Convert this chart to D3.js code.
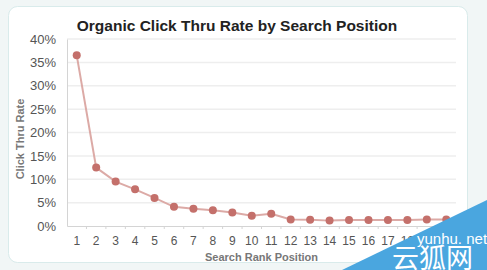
<!DOCTYPE html>
<html>
<head>
<meta charset="utf-8">
<script src="https://cdn.jsdelivr.net/npm/d3@7"></script>
<style>
  html, body { margin: 0; padding: 0; background: #f1f6f6; }
  svg { display: block; font-family: "Liberation Sans", Arial, sans-serif; }
</style>
</head>
<body>
<div id="chart"></div>
<script>
// values
const positions = d3.range(1, 21)
const ctr = [36.5, 12.5, 9.5, 7.85, 6.0, 4.1, 3.7, 3.35, 2.9, 2.2,
  2.6, 1.4, 1.35, 1.15, 1.3, 1.3, 1.3, 1.3, 1.4, 1.4]
const yTicks = [0, 5, 10, 15, 20, 25, 30, 35, 40]

const W = 487, H = 270
const margin = { top: 39, right: 31, bottom: 44, left: 67 }

const svg = d3.select("#chart").append("svg")
  .attr("width", W).attr("height", H)

// panel
svg.append("rect")
  .attr("x", 8.5).attr("y", 6.5).attr("width", 459).attr("height", 256)
  .attr("rx", 9).attr("fill", "#fff").attr("stroke", "#d9ebeb")

const x = d3.scaleBand().domain(positions).range([margin.left, W - margin.right])
const y = d3.scaleLinear().domain([0, 40]).range([H - margin.bottom, margin.top])

const g = svg.append("g")

// gridlines
g.selectAll(".grid").data(yTicks.slice(1)).enter().append("line")
  .attr("x1", margin.left).attr("x2", W - margin.right)
  .attr("y1", d => y(d)).attr("y2", d => y(d))
  .attr("stroke", "#eeeeee").attr("stroke-width", 1.5)

// y axis
const yAxis = g.append("g")
  .attr("transform", `translate(${margin.left},0)`)
  .call(d3.axisLeft(y).tickValues(yTicks).tickFormat(d => d + "%").tickSize(0).tickPadding(11))
yAxis.select(".domain").attr("stroke", "#d4d4d4")
yAxis.selectAll("text").attr("fill", "#555").style("font-size", "13px")

// x axis
const xAxis = g.append("g")
  .attr("transform", `translate(0,${y(0)})`)
  .call(d3.axisBottom(x).tickSize(0).tickPadding(10))
xAxis.select(".domain").attr("stroke", "#d4d4d4")
xAxis.selectAll("text").attr("fill", "#555").style("font-size", "12px")

// small ticks at band boundaries
g.selectAll(".xtick").data(positions.slice(1)).enter().append("line")
  .attr("x1", d => x(d)).attr("x2", d => x(d))
  .attr("y1", y(0)).attr("y2", y(0) + 3)
  .attr("stroke", "#d4d4d4")

const cx = d => x(d) + x.bandwidth() / 2

// line
const line = d3.line().x((d, i) => cx(positions[i])).y(d => y(d))
g.append("path").datum(ctr)
  .attr("d", line).attr("fill", "none")
  .attr("stroke", "#dcaaa6").attr("stroke-width", 2)

g.selectAll(".dot").data(ctr).enter().append("circle")
  .attr("cx", (d, i) => cx(positions[i])).attr("cy", d => y(d))
  .attr("r", 4).attr("fill", "#c4706b")

// titles
svg.append("text")
  .attr("x", 237).attr("y", 31).attr("text-anchor", "middle")
  .style("font-size", "15.5px").style("font-weight", "bold").attr("fill", "#222")
  .text("Organic Click Thru Rate by Search Position")

svg.append("text")
  .attr("x", (margin.left + W - margin.right) / 2).attr("y", 261).attr("text-anchor", "middle")
  .style("font-size", "11px").style("font-weight", "bold").attr("fill", "#777")
  .text("Search Rank Position")

svg.append("text")
  .attr("transform", "translate(24,139) rotate(-90)")
  .attr("text-anchor", "middle")
  .style("font-size", "11px").style("font-weight", "bold").attr("fill", "#777")
  .text("Click Thru Rate")

// watermark corner
svg.append("polygon")
  .attr("points", "342,270 487,200 487,270")
  .attr("fill", "#4aa6df")
svg.append("text")
  .attr("x", 417).attr("y", 244)
  .style("font-size", "15px").attr("fill", "#fff")
  .text("yunhu. net")
svg.append("text")
  .attr("x", 392).attr("y", 268)
  .style("font-size", "27px").attr("fill", "#fff")
  .style("font-family", "Noto Sans CJK SC")
  .text("云狐网")
</script>
</body>
</html>
